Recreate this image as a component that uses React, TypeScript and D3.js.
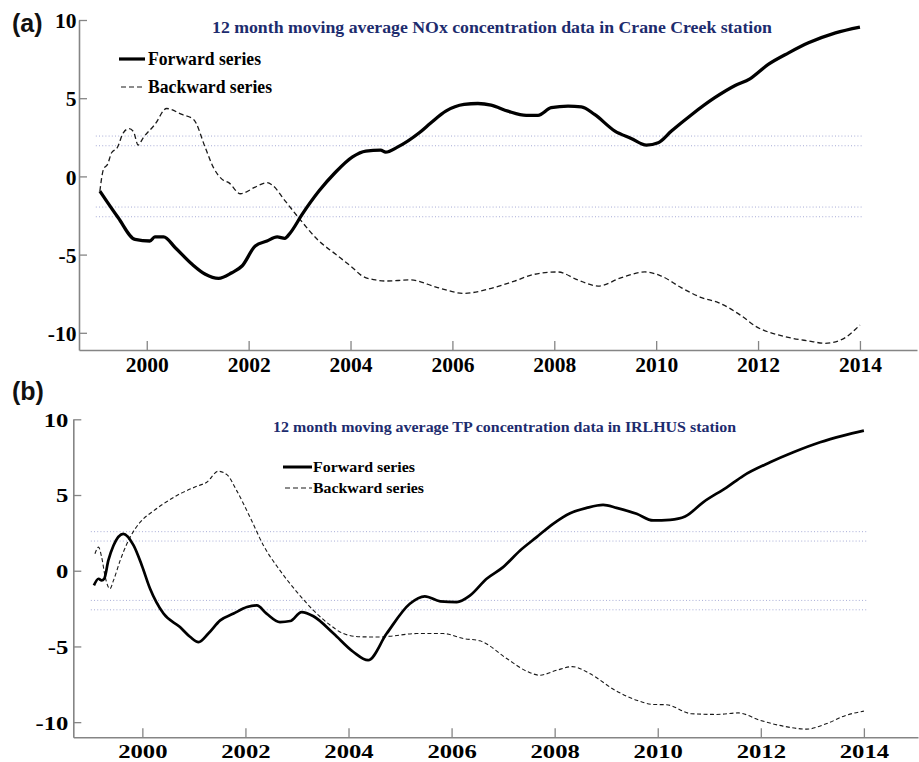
import React, { useEffect, useRef } from "react";
import * as d3 from "d3";

// Tick values shared by both panels
const yearTicks = [2000, 2002, 2004, 2006, 2008, 2010, 2012, 2014];
const valueTicks = [-10, -5, 0, 5, 10];

// Significance bands (±1.96 and ±2.58) drawn across the record
const criticalLevels = [2.58, 1.96, -1.96, -2.58];
const criticalSpan = [1999, 2014.05];

// (a) NOx, Crane Creek — sequential Mann-Kendall statistics [year, u]
const noxForward: [number, number][] = [
  [1999.08, -0.94], [1999.44, -2.64], [1999.77, -4.03], [2000.06, -4.13], [2000.16, -3.87],
  [2000.33, -3.87], [2000.56, -4.56], [2000.89, -5.62], [2001.15, -6.26], [2001.41, -6.52],
  [2001.67, -6.16], [2001.87, -5.73], [2002.13, -4.45], [2002.36, -4.13], [2002.56, -3.87],
  [2002.71, -3.96], [2002.82, -3.6], [2003.05, -2.43], [2003.38, -0.94], [2003.7, 0.25],
  [2004.04, 1.25], [2004.3, 1.62], [2004.59, 1.68], [2004.69, 1.55], [2004.92, 1.87],
  [2005.35, 2.79], [2005.58, 3.43], [2005.87, 4.17], [2006.23, 4.6], [2006.5, 4.66],
  [2006.76, 4.56], [2007.09, 4.17], [2007.45, 3.9], [2007.68, 3.9], [2007.94, 4.39],
  [2008.27, 4.49], [2008.53, 4.45], [2008.79, 3.96], [2009.19, 2.9], [2009.51, 2.43],
  [2009.81, 2.0], [2010.04, 2.15], [2010.3, 2.9], [2010.7, 3.96], [2011.15, 5.03],
  [2011.55, 5.81], [2011.84, 6.24], [2012.2, 7.16], [2012.6, 7.9], [2012.99, 8.54],
  [2013.52, 9.18], [2014.0, 9.55],
];
const noxBackward: [number, number][] = [
  [1999.08, -0.94], [1999.15, 0.45], [1999.23, 0.77], [1999.31, 1.51], [1999.42, 1.83],
  [1999.54, 2.79], [1999.65, 3.05], [1999.74, 2.86], [1999.83, 2.0], [1999.93, 2.47],
  [2000.16, 3.32], [2000.39, 4.34], [2000.69, 3.96], [2000.92, 3.64], [2001.15, 1.83],
  [2001.31, 0.56], [2001.48, -0.19], [2001.61, -0.4], [2001.84, -1.11], [2002.13, -0.68],
  [2002.36, -0.4], [2002.46, -0.55], [2002.72, -1.58], [2002.98, -2.64], [2003.38, -4.13],
  [2003.71, -4.98], [2004.04, -5.84], [2004.23, -6.37], [2004.49, -6.62], [2004.69, -6.69],
  [2005.18, -6.62], [2005.71, -7.11], [2006.23, -7.48], [2006.69, -7.22], [2007.22, -6.69],
  [2007.61, -6.26], [2008.07, -6.11], [2008.46, -6.62], [2008.86, -7.01], [2009.32, -6.47],
  [2009.78, -6.11], [2010.1, -6.37], [2010.49, -7.11], [2010.89, -7.75], [2011.22, -8.07],
  [2011.68, -8.93], [2011.94, -9.56], [2012.47, -10.2], [2012.99, -10.52], [2013.32, -10.67],
  [2013.65, -10.42], [2014.0, -9.5],
];

// (b) TP, IRLHUS — sequential Mann-Kendall statistics [year, u]
const tpForward: [number, number][] = [
  [1999.06, -0.97], [1999.15, -0.53], [1999.21, -0.64], [1999.26, -0.53], [1999.34, 0.68],
  [1999.44, 1.67], [1999.63, 2.44], [1999.83, 1.67], [1999.99, 0.35], [2000.15, -1.19],
  [2000.41, -2.83], [2000.73, -3.72], [2000.93, -4.38], [2001.09, -4.71], [2001.28, -4.15],
  [2001.51, -3.28], [2001.77, -2.83], [2002.03, -2.4], [2002.22, -2.29], [2002.41, -2.83],
  [2002.67, -3.39], [2002.87, -3.32], [2003.09, -2.73], [2003.32, -3.01], [2003.71, -4.15],
  [2004.09, -5.35], [2004.38, -5.91], [2004.74, -4.15], [2005.19, -2.18], [2005.48, -1.69],
  [2005.78, -2.02], [2006.1, -2.07], [2006.36, -1.63], [2006.68, -0.53], [2007.0, 0.24],
  [2007.33, 1.34], [2007.65, 2.22], [2007.97, 3.1], [2008.3, 3.8], [2008.62, 4.15],
  [2008.94, 4.35], [2009.2, 4.15], [2009.59, 3.76], [2009.91, 3.32], [2010.24, 3.36],
  [2010.53, 3.58], [2010.88, 4.52], [2011.34, 5.51], [2011.66, 6.27], [2012.18, 7.16],
  [2012.63, 7.82], [2013.15, 8.48], [2013.6, 8.92], [2014.0, 9.25],
];
const tpBackward: [number, number][] = [
  [1999.08, 1.12], [1999.15, 1.56], [1999.21, 0.9], [1999.28, -0.42], [1999.37, -1.19],
  [1999.44, -0.64], [1999.57, 0.68], [1999.7, 1.78], [1999.86, 2.77], [2000.02, 3.43],
  [2000.18, 3.86], [2000.41, 4.42], [2000.73, 5.08], [2001.09, 5.62], [2001.25, 5.84],
  [2001.47, 6.57], [2001.64, 6.35], [2001.83, 5.29], [2002.09, 3.53], [2002.35, 1.67],
  [2002.67, 0.02], [2003.0, -1.41], [2003.32, -2.62], [2003.64, -3.58], [2003.9, -4.15],
  [2004.22, -4.36], [2004.61, -4.38], [2004.8, -4.33], [2005.32, -4.15], [2005.84, -4.15],
  [2006.23, -4.48], [2006.55, -4.63], [2007.07, -5.8], [2007.46, -6.64], [2007.71, -6.9],
  [2008.04, -6.57], [2008.34, -6.33], [2008.68, -6.79], [2009.17, -7.89], [2009.59, -8.55],
  [2009.91, -8.83], [2010.17, -8.85], [2010.65, -9.44], [2011.14, -9.49], [2011.56, -9.39],
  [2011.98, -9.87], [2012.43, -10.26], [2012.89, -10.46], [2013.28, -10.09], [2013.66, -9.54],
  [2014.0, -9.27],
];

const SERIF = "'Liberation Serif', 'Times New Roman', serif";
const SANS = "'Liberation Sans', Arial, sans-serif";
const AXIS_GREY = "#858585";
const TITLE_NAVY = "#1d2c6e";

type PanelProps = {
  tag: string;
  tagY: number;
  title: string;
  forward: [number, number][];
  backward: [number, number][];
  xDomain: [number, number];
  xRange: [number, number];
  yDomain: [number, number];
  yRange: [number, number];
  labelSize: number;
  labelStretch: number;
  yPad: number;
  title_: { x: number; y: number; size: number; width: number };
  legend: { x1: number; x2: number; tx: number; y1: number; y2: number; size: number; w1: number; w2: number; lw: number };
  fwdWidth: number;
  bwdWidth: number;
  bwdDash: string;
};

// Plain hyphen for negatives, as in the printed tick labels
const plainNumber = (d: d3.NumberValue) => String(d);

function Panel(p: PanelProps) {
  const xRef = useRef<SVGGElement>(null);
  const yRef = useRef<SVGGElement>(null);

  const x = d3.scaleLinear().domain(p.xDomain).range(p.xRange);
  const y = d3.scaleLinear().domain(p.yDomain).range(p.yRange);
  const line = d3
    .line<[number, number]>()
    .x((d) => x(d[0]))
    .y((d) => y(d[1]))
    .curve(d3.curveMonotoneX);

  useEffect(() => {
    const styleAxis = (g: d3.Selection<SVGGElement, unknown, null, undefined>) => {
      g.select(".domain").attr("stroke", AXIS_GREY).attr("stroke-width", 1.6);
      g.selectAll(".tick line").attr("stroke", AXIS_GREY).attr("stroke-width", 1.3);
      g.selectAll(".tick text")
        .attr("fill", "#000")
        .attr("font-family", SERIF)
        .attr("font-weight", "bold")
        .attr("font-size", p.labelSize)
        .attr("transform", `scale(${p.labelStretch},1)`);
    };
    const xg = d3.select(xRef.current!);
    xg.call(
      d3
        .axisBottom(x)
        .tickValues(yearTicks)
        .tickFormat(plainNumber)
        .tickSizeInner(-9)
        .tickSizeOuter(0)
        .tickPadding(7)
    );
    styleAxis(xg);
    const yg = d3.select(yRef.current!);
    yg.call(
      d3
        .axisLeft(y)
        .tickValues(valueTicks)
        .tickFormat(plainNumber)
        .tickSizeInner(-8)
        .tickSizeOuter(0)
        .tickPadding(p.yPad)
    );
    styleAxis(yg);
    yg.selectAll(".tick text").attr("dy", "0.36em");
  }, []);

  const lg = p.legend;
  return (
    <g>
      <text x={12} y={p.tagY} fontFamily={SANS} fontWeight="bold" fontSize={25} fill="#111">
        {p.tag}
      </text>
      {criticalLevels.map((c) => (
        <line
          key={c}
          x1={x(criticalSpan[0])}
          x2={x(criticalSpan[1])}
          y1={y(c)}
          y2={y(c)}
          stroke="#a7acd6"
          strokeWidth={1}
          strokeDasharray="1,2.2"
        />
      ))}
      <path d={line(p.backward) ?? ""} fill="none" stroke="#1a1a1a" strokeWidth={p.bwdWidth} strokeDasharray={p.bwdDash} />
      <path d={line(p.forward) ?? ""} fill="none" stroke="#000" strokeWidth={p.fwdWidth} strokeLinejoin="round" />
      <g ref={xRef} transform={`translate(0,${p.yRange[0]})`} />
      <g ref={yRef} transform={`translate(${p.xRange[0]},0)`} />
      <text
        x={p.title_.x}
        y={p.title_.y}
        fontFamily={SERIF}
        fontWeight="bold"
        fontSize={p.title_.size}
        fill={TITLE_NAVY}
        textLength={p.title_.width}
        lengthAdjust="spacingAndGlyphs"
      >
        {p.title}
      </text>
      <line x1={lg.x1} x2={lg.x2} y1={lg.y1} y2={lg.y1} stroke="#000" strokeWidth={lg.lw} />
      <text x={lg.tx} y={lg.y1 + lg.size * 0.33} fontFamily={SERIF} fontWeight="bold" fontSize={lg.size} fill="#000" textLength={lg.w1} lengthAdjust="spacingAndGlyphs">
        Forward series
      </text>
      <line x1={lg.x1 + 2} x2={lg.x2} y1={lg.y2} y2={lg.y2} stroke="#1a1a1a" strokeWidth={1.2} strokeDasharray="5,3" />
      <text x={lg.tx} y={lg.y2 + lg.size * 0.33} fontFamily={SERIF} fontWeight="bold" fontSize={lg.size} fill="#000" textLength={lg.w2} lengthAdjust="spacingAndGlyphs">
        Backward series
      </text>
    </g>
  );
}

export default function App() {
  return (
    <svg
      width={919}
      height={762}
      viewBox="0 0 919 762"
      style={{ position: "absolute", left: 0, top: 0, background: "#fff" }}
    >
      <rect width={919} height={762} fill="#fff" />
      <Panel
        tag="(a)"
        tagY={32}
        title="12 month moving average NOx concentration data in Crane Creek station"
        forward={noxForward}
        backward={noxBackward}
        xDomain={[1998.67, 2015.12]}
        xRange={[79, 917]}
        yDomain={[-11.1, 10]}
        yRange={[350, 20]}
        labelSize={21.5}
        labelStretch={1}
        yPad={2.5}
        title_={{ x: 212, y: 33, size: 17.5, width: 560 }}
        legend={{ x1: 119, x2: 145, tx: 148, y1: 59, y2: 87, size: 18.5, w1: 113, w2: 124, lw: 3.2 }}
        fwdWidth={3.3}
        bwdWidth={1.3}
        bwdDash="5,3"
      />
      <Panel
        tag="(b)"
        tagY={400}
        title="12 month moving average TP concentration data in IRLHUS station"
        forward={tpForward}
        backward={tpBackward}
        xDomain={[1998.66, 2015.05]}
        xRange={[73.3, 918]}
        yDomain={[-11, 10]}
        yRange={[737.3, 419.3]}
        labelSize={19}
        labelStretch={1.3}
        yPad={3.8}
        title_={{ x: 273, y: 431.5, size: 13.8, width: 463 }}
        legend={{ x1: 283, x2: 312, tx: 313, y1: 467, y2: 488, size: 14, w1: 102, w2: 111, lw: 3 }}
        fwdWidth={2.7}
        bwdWidth={1.1}
        bwdDash="4,2.5"
      />
    </svg>
  );
}
